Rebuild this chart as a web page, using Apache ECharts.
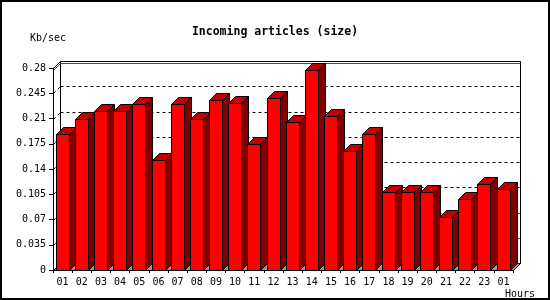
<!DOCTYPE html>
<html><head><meta charset="utf-8">
<script src="https://cdn.jsdelivr.net/npm/echarts@6/dist/echarts.min.js"></script>
<style>html,body{margin:0;padding:0;background:#fff}#c{width:550px;height:300px}</style>
</head><body><div id="c"></div>
<script>
const categories = ['01','02','03','04','05','06','07','08','09','10','11','12','13','14','15','16','17','18','19','20','21','22','23','01'];
const values = [0.188,0.210,0.221,0.220,0.2295,0.152,0.2295,0.210,0.235,0.231,0.174,0.238,0.2046,0.2766,0.213,0.1644,0.188,0.1076,0.1076,0.1076,0.073,0.098,0.1187,0.1118];
const yTicks = [0,0.035,0.07,0.105,0.14,0.175,0.21,0.245,0.28];
const titleText = 'Incoming articles (size)';
const yUnit = 'Kb/sec';
const xUnit = 'Hours';

const DEPTH = 7;
const MONO = 'DejaVu Sans Mono';
const px = v => Math.round(v) + 0.5;
const maxVal = Math.max.apply(null, values);

function renderFrame(params, api) {
  const cs = params.coordSys;
  const L = px(cs.x), R = px(cs.x + cs.width), T = px(cs.y), B = px(cs.y + cs.height);
  const d = DEPTH;
  const ch = [];
  ch.push({type:'rect', shape:{x:L+d, y:T-d, width:R-L, height:B-T}, style:{fill:'#fff', stroke:'#000', lineWidth:1}});
  ch.push({type:'polygon', shape:{points:[[L,B],[R,B],[R+d,B-d],[L+d,B-d]]}, style:{fill:'#999', stroke:'#000', lineWidth:1}});
  for (let k = 1; k < yTicks.length - 1; k++) {
    const y = px(api.coord([0, yTicks[k]])[1]);
    ch.push({type:'line', shape:{x1:L+d, y1:y-d, x2:R+d, y2:y-d}, style:{stroke:'#000', lineWidth:1, lineDash:[3,3]}});
    ch.push({type:'line', shape:{x1:L, y1:y, x2:L+d, y2:y-d}, style:{stroke:'#000', lineWidth:1, lineDash:[3,3]}});
  }
  ch.push({type:'line', shape:{x1:L, y1:T, x2:L+d, y2:T-d}, style:{stroke:'#000', lineWidth:1}});
  const ym = px(api.coord([0, maxVal])[1]);
  ch.push({type:'line', shape:{x1:L+d, y1:ym-d, x2:R+d, y2:ym-d}, style:{stroke:'#ff0000', lineWidth:1}});
  ch.push({type:'line', shape:{x1:L, y1:ym, x2:L+d, y2:ym-d}, style:{stroke:'#ff0000', lineWidth:1}});
  return {type:'group', children: ch};
}

function renderBar(params, api) {
  const i = api.value(0), v = api.value(1);
  const c = api.coord([i, v]);
  const b = api.coord([i, 0]);
  const band = api.size([1, 0])[0];
  const x0 = px(c[0] - band/2 + band*0.14);
  const w = Math.round(band*0.66);
  const yt = px(c[1]), yb = px(b[1]);
  const d = DEPTH;
  return {type:'group', children:[
    {type:'polygon', shape:{points:[[x0+w,yt],[x0+w+d,yt-d],[x0+w+d,yb-d],[x0+w,yb]]}, style:{fill:'#800000', stroke:'#000', lineWidth:1}},
    {type:'polygon', shape:{points:[[x0,yt],[x0+w,yt],[x0+w+d,yt-d],[x0+d,yt-d]]}, style:{fill:'#c00000', stroke:'#000', lineWidth:1}},
    {type:'rect', shape:{x:x0, y:yt, width:w, height:yb-yt}, style:{fill:'#ff0000', stroke:'#000', lineWidth:1}}
  ]};
}

const chart = echarts.init(document.getElementById('c'), null, {renderer:'canvas'});
chart.setOption({
  animation: false,
  backgroundColor: '#fff',
  title: {text: titleText, left: 'center', top: 21, textStyle: {fontFamily: MONO, fontWeight: 'bold', fontSize: 11.5, color: '#000'}},
  grid: {left: 53, right: 37, top: 68, bottom: 30},
  xAxis: {
    type: 'category', data: categories, boundaryGap: true, z: 10,
    axisLine: {show: true, lineStyle: {color: '#000', width: 1}},
    axisTick: {show: true, interval: 0, length: 3, lineStyle: {color: '#000'}},
    axisLabel: {interval: 0, margin: 7, fontFamily: MONO, fontSize: 10, color: '#000'},
    splitLine: {show: false}
  },
  yAxis: {
    type: 'value', min: 0, max: 0.28, interval: 0.035, z: 10,
    axisLine: {show: true, lineStyle: {color: '#000', width: 1}},
    axisTick: {show: true, length: 4, lineStyle: {color: '#000'}},
    axisLabel: {margin: 7, fontFamily: MONO, fontSize: 10, color: '#000', formatter: v => String(+v.toFixed(3))},
    splitLine: {show: false}
  },
  series: [
    {type: 'custom', z: 1, clip: false, silent: true, renderItem: renderFrame, data: [[0, 0]], encode: {x: 0, y: 1}},
    {type: 'custom', z: 2, clip: false, silent: true, renderItem: renderBar, data: values.map((v, i) => [i, v]), encode: {x: 0, y: 1}}
  ],
  graphic: [
    {type: 'rect', shape: {x: 1, y: 1, width: 548, height: 298}, style: {fill: 'none', stroke: '#000', lineWidth: 2}, z: 100},
    {type: 'text', left: 30, top: 33, style: {text: yUnit, fontFamily: MONO, fontSize: 10, fill: '#000'}},
    {type: 'text', left: 505, top: 289, style: {text: xUnit, fontFamily: MONO, fontSize: 10, fill: '#000'}}
  ]
});
</script>
</body></html>
